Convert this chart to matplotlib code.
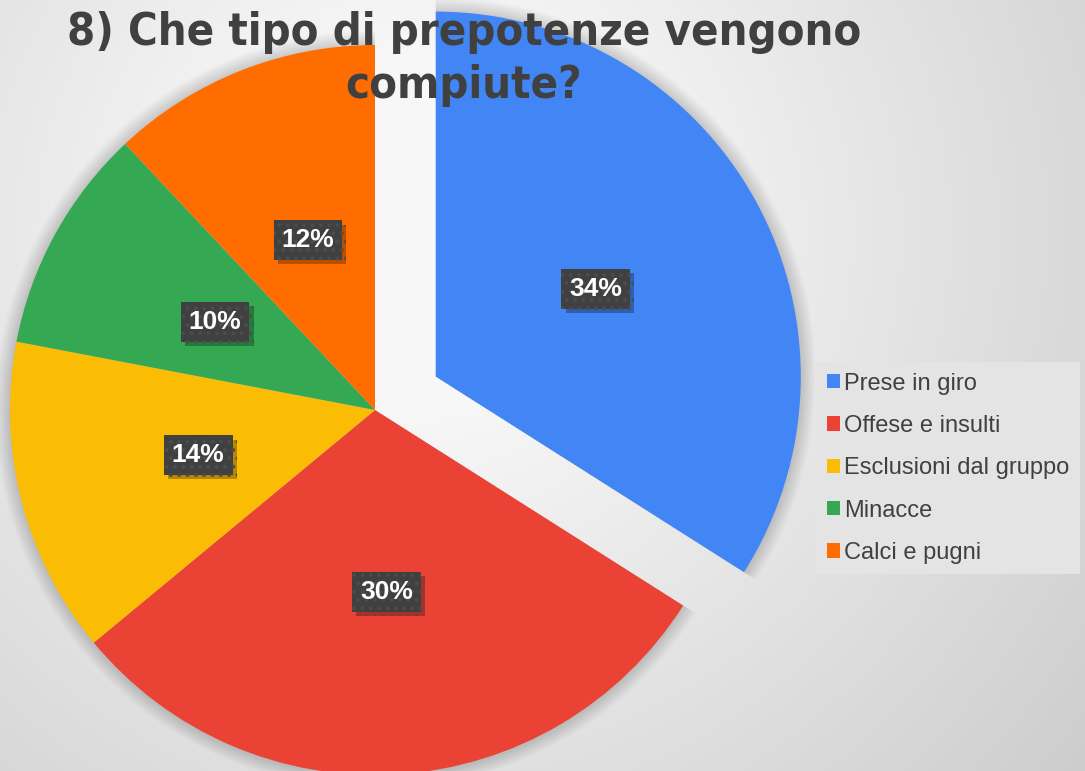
import numpy as np
import matplotlib
matplotlib.use("Agg")
import matplotlib.pyplot as plt
import matplotlib.patheffects as pe

categories = ["Prese in giro", "Offese e insulti", "Esclusioni dal gruppo", "Minacce", "Calci e pugni"]
values = [34, 30, 14, 10, 12]
colors = ["#4285F4", "#EA4335", "#FBBC04", "#34A853", "#FF6D01"]
explode = [0.19, 0, 0, 0, 0]
title = "8) Che tipo di prepotenze vengono\ncompiute?"

W, H = 1085, 771
fig = plt.figure(figsize=(W / 100, H / 100), dpi=100)

# background gradient
bg = fig.add_axes([0, 0, 1, 1])
yy, xx = np.mgrid[0:H, 0:W]
d = np.hypot(xx - 420, yy - 230)
v = np.clip(258 - 0.062 * d, 196, 247) / 255.0
bg.imshow(np.dstack([v, v, v]), extent=[0, W, H, 0], aspect="auto", zorder=0)
bg.set_xlim(0, W); bg.set_ylim(H, 0)
bg.axis("off")

R = 365.0
cx, cy = 375.0, 410.0
ax = fig.add_axes([0, 0, 1, 1])
ax.patch.set_alpha(0)

# soft shadow
for k in range(10):
    ax.pie(values, explode=explode, startangle=90, counterclock=False, radius=1 + 0.004 * (k + 1),
           colors=["black"] * len(values), wedgeprops=dict(alpha=0.016, linewidth=0), frame=False)

wedges, texts, autotexts = ax.pie(values, explode=explode, colors=colors, startangle=90,
                                  counterclock=False, radius=1, autopct="%d%%", pctdistance=0.5,
                                  wedgeprops=dict(linewidth=0), frame=False)
ax.set_xlim(-cx / R, (W - cx) / R)
ax.set_ylim(-(H - cy) / R, cy / R)
ax.set_aspect("equal")
ax.axis("off")

plt.rcParams["hatch.linewidth"] = 1.5
for t in autotexts:
    t.set_color("white")
    t.set_fontsize(19)
    t.set_fontweight("bold")
    t.set_fontfamily("Liberation Sans")
    t.set_bbox(dict(boxstyle="square,pad=0.3", facecolor="#404040", edgecolor="#4c4c4c",
                    linewidth=0, hatch=".."))
    t.get_bbox_patch().set_path_effects([pe.SimplePatchShadow(offset=(3, -3), alpha=0.28, shadow_rgbFace="black"),
                                         pe.Normal()])

fig.text(464 / W, 1 - 11 / H, title, ha="center", va="top", fontsize=32.5, fontweight="bold",
         fontstretch="condensed", color="#404040", family="DejaVu Sans", linespacing=1.3, zorder=10)

leg = fig.legend(wedges, categories, loc="upper left", bbox_to_anchor=(816 / W, 1 - 362 / H),
                 frameon=True, fancybox=False, handlelength=0.55, handleheight=0.55,
                 handletextpad=0.2, labelspacing=0.86, borderpad=0.45, borderaxespad=0,
                 prop=dict(family="Liberation Sans", size=17))
leg.get_frame().set_facecolor("#e4e4e4")
leg.get_frame().set_edgecolor("none")
leg.get_frame().set_alpha(1)
for t in leg.get_texts():
    t.set_color("#404040")

fig.savefig("out.png", dpi=100)
